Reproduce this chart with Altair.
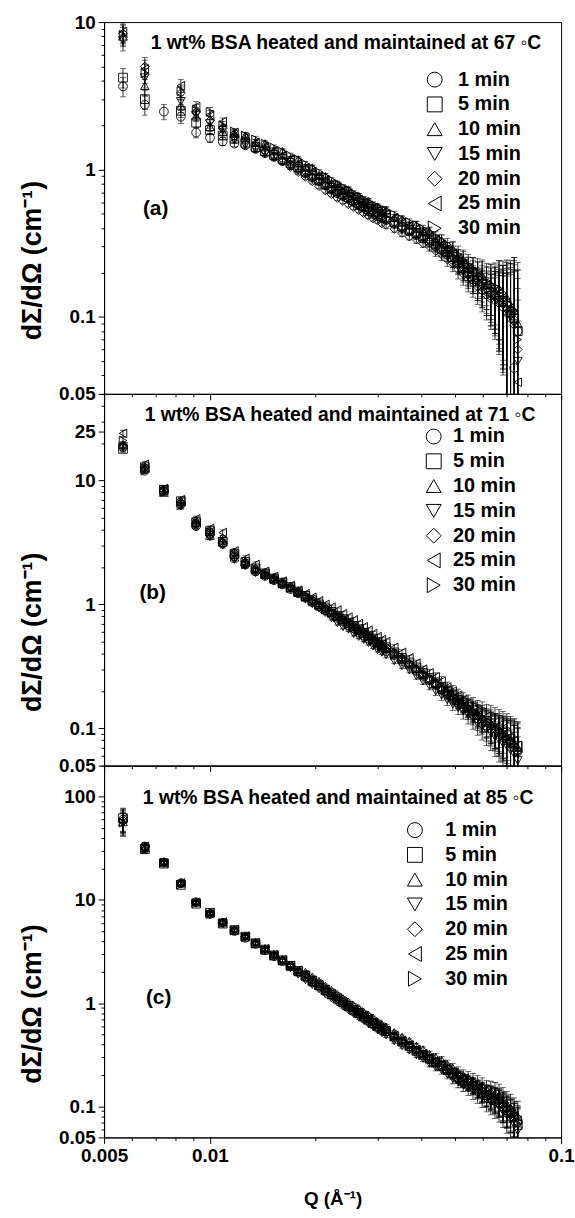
import altair as alt
import pandas as pd

FONT = "Liberation Sans"

SERIES = ["1 min", "5 min", "10 min", "15 min", "20 min", "25 min", "30 min"]
SHAPES = ["circle", "square", "triangle-up", "triangle-down", "diamond", "triangle-left", "triangle-right"]

Q = [0.00566, 0.00653, 0.0074, 0.00827, 0.00914, 0.01001, 0.01088, 0.01175, 0.01262, 0.01349,
     0.01436, 0.01523, 0.0161, 0.01697, 0.01784, 0.01871, 0.01958, 0.02045, 0.02132, 0.02219,
     0.02306, 0.02393, 0.0248, 0.02567, 0.02654, 0.02741, 0.02828, 0.02915, 0.03002, 0.03089,
     0.03176, 0.0335, 0.03524, 0.03698, 0.03872, 0.04046, 0.0422, 0.04394, 0.04568, 0.04742,
     0.04916, 0.0509, 0.05264, 0.05438, 0.05612, 0.05786, 0.0596, 0.06134, 0.06308, 0.06482,
     0.06656, 0.0683, 0.07004, 0.07178, 0.07352, 0.07526]

# ---- (a) 67 C ----
A67_1 = [3.66, 2.75, 2.47, 2.28, 1.78, 1.64, 1.55,
         1.50, 1.46, 1.38, 1.29, 1.22, 1.14, 1.07, 1.01, 0.94, 0.88,
         0.83, 0.78, 0.73, 0.69, 0.66, 0.63, 0.60, 0.57, 0.55, 0.52,
         0.50, 0.48, 0.47, 0.455, 0.43, 0.40, 0.38, 0.36, 0.34, 0.32,
         0.30, 0.285, 0.265, 0.245, 0.23, 0.21, 0.195, 0.18, 0.17, 0.16,
         0.15, 0.14, 0.14, 0.13, 0.125, 0.11, 0.105, 0.045, 0.08]
A67_5 = [4.2, 3.0, None, 2.5, 2.08, 1.85, 1.70,
         1.62, 1.52, 1.42, 1.33, 1.25, 1.18, 1.11, 1.04, 0.97, 0.91,
         0.85, 0.80, 0.75, 0.72, 0.68, 0.65, 0.62, 0.59, 0.56, 0.54,
         0.52, 0.50, 0.48, 0.47, 0.44, 0.41, 0.39, 0.37, 0.35, 0.33,
         0.31, 0.29, 0.275, 0.255, 0.235, 0.215, 0.20, 0.185, 0.175, 0.165,
         0.155, 0.148, 0.14, 0.135, 0.128, 0.118, 0.108, 0.098, 0.08]
A67_10 = [8.0, 3.7, None, 2.7, 2.3, 1.95, 1.80,
          1.75, 1.70, 1.52, 1.50, 1.35, 1.33, 1.18, 1.17, 1.04, 1.03,
          0.91, 0.90, 0.80, 0.80, 0.72, 0.73, 0.66, 0.66, 0.60, 0.61,
          0.55, 0.56, 0.51, 0.53, 0.47, 0.46, 0.42, 0.42, 0.38, 0.38,
          0.33, 0.33, 0.29, 0.29, 0.25, 0.245, 0.215, 0.21, 0.19, 0.19,
          0.165, 0.165, 0.15, 0.155, 0.135, 0.135, 0.115, 0.11, 0.09]
A67_15 = [7.5, 4.2, None, 2.9, 2.35, 2.05, 1.85,
          1.58, 1.47, 1.37, 1.28, 1.20, 1.13, 1.06, 0.99, 0.93, 0.87,
          0.82, 0.77, 0.72, 0.69, 0.65, 0.62, 0.59, 0.56, 0.54, 0.52,
          0.50, 0.48, 0.46, 0.45, 0.42, 0.39, 0.375, 0.355, 0.34, 0.32,
          0.30, 0.28, 0.265, 0.245, 0.225, 0.205, 0.19, 0.18, 0.17, 0.16,
          0.15, 0.14, 0.135, 0.13, 0.12, 0.11, 0.10, 0.09, 0.05]
A67_20 = [8.4, 5.0, None, 3.3, 2.45, 2.15, 1.90,
          1.68, 1.57, 1.45, 1.33, 1.23, 1.13, 1.04, 0.96, 0.89, 0.83,
          0.77, 0.72, 0.68, 0.64, 0.61, 0.58, 0.555, 0.53, 0.505, 0.485,
          0.465, 0.45, 0.43, 0.42, 0.395, 0.37, 0.35, 0.335, 0.315, 0.30,
          0.28, 0.265, 0.245, 0.23, 0.21, 0.195, 0.18, 0.17, 0.16, 0.15,
          0.14, 0.132, 0.128, 0.123, 0.115, 0.105, 0.097, 0.088, 0.06]
A67_25 = [8.6, 4.8, None, 3.7, 2.67, 2.35, 2.11,
          1.78, 1.65, 1.53, 1.43, 1.34, 1.25, 1.18, 1.10, 1.03, 0.97,
          0.90, 0.85, 0.80, 0.76, 0.72, 0.69, 0.655, 0.625, 0.60, 0.57,
          0.55, 0.53, 0.51, 0.50, 0.47, 0.44, 0.415, 0.395, 0.375, 0.355,
          0.335, 0.31, 0.29, 0.27, 0.25, 0.23, 0.215, 0.20, 0.19, 0.175,
          0.165, 0.155, 0.15, 0.145, 0.135, 0.125, 0.115, 0.105, 0.036]
A67_30 = [8.2, 4.5, None, 3.4, 2.55, 2.46, 2.0,
          1.81, 1.70, 1.60, 1.50, 1.41, 1.32, 1.24, 1.17, 1.09, 1.02,
          0.96, 0.90, 0.85, 0.80, 0.76, 0.73, 0.69, 0.66, 0.63, 0.605,
          0.58, 0.56, 0.54, 0.53, 0.495, 0.46, 0.44, 0.42, 0.395, 0.375,
          0.35, 0.33, 0.31, 0.285, 0.265, 0.24, 0.225, 0.21, 0.20, 0.185,
          0.175, 0.165, 0.16, 0.155, 0.145, 0.13, 0.12, 0.11, 0.07]
ERR67 = [0.15, 0.15, 0.12, 0.10, 0.08, 0.07, 0.06, 0.05, 0.05, 0.05,
         0.04, 0.04, 0.04, 0.04, 0.04, 0.04, 0.04, 0.04, 0.04, 0.04,
         0.04, 0.04, 0.04, 0.04, 0.04, 0.04, 0.04, 0.04, 0.04, 0.04,
         0.05, 0.05, 0.05, 0.05, 0.06, 0.06, 0.07, 0.08, 0.09, 0.10,
         0.12, 0.14, 0.16, 0.18, 0.20, 0.24, 0.28, 0.32, 0.38, 0.45,
         0.55, 0.65, 0.80, 1.00, 1.30, 1.60]

# ---- (b) 71 C ----
B71_1 = [18.5, 12.0, 8.2, 6.4, 4.3, 3.7, 3.1, 2.45, 2.1, 1.85,
         1.70, 1.57, 1.45, 1.33, 1.23, 1.14, 1.05, 0.97, 0.90, 0.84,
         0.78, 0.73, 0.68, 0.64, 0.60, 0.56, 0.53, 0.50, 0.47, 0.45,
         0.42, 0.39, 0.35, 0.32, 0.29, 0.265, 0.245, 0.225, 0.205, 0.19,
         0.175, 0.16, 0.15, 0.14, 0.13, 0.12, 0.115, 0.105, 0.10, 0.095,
         0.09, 0.085, 0.08, 0.075, 0.07, 0.065]
B71_5 = [18.0, 12.8, 8.4, 6.8, 4.6, 3.9, 3.2, 2.55, 2.2, 1.95,
         1.78, 1.62, 1.50, 1.38, 1.27, 1.17, 1.08, 1.0, 0.93, 0.87,
         0.81, 0.76, 0.71, 0.67, 0.63, 0.59, 0.56, 0.53, 0.50, 0.47,
         0.45, 0.41, 0.37, 0.34, 0.31, 0.28, 0.255, 0.235, 0.215, 0.20,
         0.185, 0.17, 0.16, 0.15, 0.14, 0.13, 0.125, 0.115, 0.11, 0.10,
         0.098, 0.092, 0.088, 0.082, 0.078, 0.072]
B71_10 = [19.5, 12.5, 8.0, 6.9, 4.8, 3.6, 3.3, 2.4, 2.2, 1.9,
          1.74, 1.60, 1.48, 1.36, 1.25, 1.16, 1.07, 0.99, 0.92, 0.86,
          0.80, 0.75, 0.70, 0.66, 0.62, 0.58, 0.55, 0.52, 0.49, 0.46,
          0.44, 0.40, 0.36, 0.33, 0.30, 0.27, 0.25, 0.23, 0.21, 0.195,
          0.18, 0.165, 0.155, 0.145, 0.135, 0.128, 0.12, 0.112, 0.105, 0.10,
          0.095, 0.09, 0.085, 0.08, 0.076, 0.07]
B71_15 = [18.8, 12.2, 8.5, 6.2, 4.2, 3.5, 3.0, 2.3, 2.05, 1.8,
          1.68, 1.55, 1.44, 1.32, 1.22, 1.10, 1.01, 0.93, 0.86, 0.78,
          0.71, 0.66, 0.63, 0.58, 0.55, 0.52, 0.49, 0.46, 0.43, 0.41,
          0.39, 0.35, 0.32, 0.295, 0.265, 0.24, 0.22, 0.20, 0.185, 0.17,
          0.157, 0.147, 0.138, 0.129, 0.12, 0.11, 0.103, 0.097, 0.092, 0.086,
          0.081, 0.076, 0.072, 0.067, 0.062, 0.055]
B71_20 = [19.0, 12.8, 8.3, 6.6, 4.5, 3.9, 3.4, 2.6, 2.2, 1.95,
          1.80, 1.64, 1.51, 1.39, 1.28, 1.18, 1.09, 1.01, 0.94, 0.88,
          0.82, 0.77, 0.72, 0.67, 0.63, 0.60, 0.56, 0.53, 0.50, 0.47,
          0.45, 0.41, 0.37, 0.33, 0.30, 0.275, 0.25, 0.23, 0.21, 0.195,
          0.18, 0.17, 0.158, 0.148, 0.138, 0.128, 0.12, 0.112, 0.106, 0.10,
          0.095, 0.09, 0.084, 0.079, 0.072, 0.065]
B71_25 = [24.0, 13.5, 8.6, 7.0, 4.9, 4.1, 3.8, 2.7, 2.35, 2.1,
          1.85, 1.68, 1.54, 1.42, 1.30, 1.22, 1.14, 1.07, 1.0, 0.95,
          0.90, 0.84, 0.79, 0.75, 0.70, 0.66, 0.62, 0.58, 0.55, 0.52,
          0.50, 0.45, 0.41, 0.37, 0.335, 0.30, 0.28, 0.26, 0.24, 0.215,
          0.20, 0.185, 0.17, 0.16, 0.15, 0.14, 0.134, 0.125, 0.12, 0.112,
          0.106, 0.10, 0.093, 0.086, 0.08, 0.073]
B71_30 = [21.0, 12.0, 8.1, 6.3, 4.4, 3.8, 3.2, 2.5, 2.1, 1.9,
          1.75, 1.60, 1.47, 1.35, 1.25, 1.15, 1.06, 0.98, 0.91, 0.85,
          0.79, 0.74, 0.69, 0.65, 0.61, 0.57, 0.54, 0.51, 0.48, 0.46,
          0.43, 0.39, 0.36, 0.33, 0.30, 0.27, 0.25, 0.23, 0.21, 0.195,
          0.18, 0.165, 0.155, 0.145, 0.135, 0.125, 0.118, 0.11, 0.104, 0.098,
          0.092, 0.087, 0.082, 0.077, 0.07, 0.064]
ERR71 = [0.06, 0.05, 0.05, 0.05, 0.05, 0.05, 0.05, 0.05, 0.05, 0.05,
         0.04, 0.04, 0.04, 0.04, 0.04, 0.04, 0.04, 0.04, 0.04, 0.04,
         0.04, 0.04, 0.04, 0.04, 0.04, 0.04, 0.04, 0.04, 0.04, 0.04,
         0.05, 0.05, 0.05, 0.05, 0.06, 0.06, 0.07, 0.08, 0.09, 0.10,
         0.11, 0.12, 0.14, 0.16, 0.18, 0.20, 0.22, 0.25, 0.28, 0.31,
         0.34, 0.37, 0.41, 0.45, 0.50, 0.55]

# ---- (c) 85 C ----
C85_1 = [60, 33, 23, 14.5, 9.5, 7.3, 6.0, 5.0, 4.3, 3.75,
         3.25, 2.85, 2.55, 2.28, 2.02, 1.82, 1.63, 1.48, 1.33, 1.21,
         1.10, 1.01, 0.93, 0.86, 0.80, 0.74, 0.69, 0.64, 0.60, 0.56,
         0.53, 0.47, 0.42, 0.38, 0.345, 0.315, 0.285, 0.265, 0.245, 0.225,
         0.205, 0.19, 0.178, 0.168, 0.158, 0.148, 0.138, 0.128, 0.122, 0.117,
         0.11, 0.10, 0.092, 0.085, 0.078, 0.07]
C85_5 = [62, 31, 22.5, 14.0, 9.2, 7.5, 5.9, 5.1, 4.4, 3.8,
         3.3, 2.9, 2.6, 2.3, 2.05, 1.84, 1.64, 1.49, 1.34, 1.22,
         1.11, 1.02, 0.94, 0.86, 0.80, 0.74, 0.69, 0.64, 0.60, 0.565,
         0.535, 0.475, 0.425, 0.385, 0.345, 0.315, 0.29, 0.265, 0.245, 0.225,
         0.21, 0.19, 0.175, 0.165, 0.155, 0.145, 0.135, 0.128, 0.12, 0.115,
         0.11, 0.10, 0.092, 0.086, 0.078, 0.066]
C85_10 = [57, 32, 23.5, 14.8, 9.6, 7.6, 6.1, 5.2, 4.5, 3.9,
          3.4, 3.0, 2.65, 2.35, 2.1, 2.0, 1.8, 1.63, 1.47, 1.33,
          1.22, 1.11, 1.03, 0.95, 0.89, 0.82, 0.77, 0.72, 0.66, 0.62,
          0.59, 0.52, 0.47, 0.43, 0.385, 0.355, 0.32, 0.30, 0.28, 0.255,
          0.235, 0.215, 0.2, 0.19, 0.178, 0.167, 0.156, 0.145, 0.14, 0.134,
          0.127, 0.116, 0.105, 0.097, 0.088, 0.08]
C85_15 = [55, 31.5, 22.8, 14.2, 9.3, 7.2, 5.9, 5.0, 4.35, 3.75,
          3.25, 2.85, 2.55, 2.2, 1.9, 1.68, 1.51, 1.37, 1.23, 1.12,
          1.02, 0.93, 0.86, 0.79, 0.73, 0.68, 0.63, 0.59, 0.55, 0.515,
          0.49, 0.43, 0.385, 0.35, 0.315, 0.29, 0.26, 0.24, 0.225, 0.205,
          0.186, 0.172, 0.16, 0.15, 0.141, 0.132, 0.123, 0.115, 0.11, 0.104,
          0.099, 0.09, 0.082, 0.074, 0.067, 0.058]
C85_20 = [59, 32.5, 23.2, 14.4, 9.4, 7.4, 6.0, 5.1, 4.4, 3.8,
          3.3, 2.9, 2.6, 2.3, 2.05, 1.85, 1.65, 1.5, 1.35, 1.22,
          1.12, 1.02, 0.94, 0.87, 0.81, 0.75, 0.70, 0.65, 0.61, 0.57,
          0.54, 0.48, 0.43, 0.39, 0.35, 0.32, 0.29, 0.27, 0.25, 0.23,
          0.21, 0.195, 0.18, 0.17, 0.16, 0.15, 0.14, 0.13, 0.125, 0.12,
          0.114, 0.104, 0.094, 0.087, 0.079, 0.07]
C85_25 = [61, 33, 22.7, 14.6, 9.5, 7.5, 6.1, 5.15, 4.45, 3.85,
          3.35, 2.95, 2.62, 2.32, 2.07, 1.87, 1.67, 1.51, 1.36, 1.23,
          1.13, 1.03, 0.95, 0.88, 0.82, 0.76, 0.71, 0.66, 0.62, 0.58,
          0.545, 0.485, 0.435, 0.395, 0.355, 0.325, 0.295, 0.275, 0.255, 0.235,
          0.215, 0.2, 0.185, 0.172, 0.162, 0.152, 0.142, 0.133, 0.127, 0.121,
          0.116, 0.106, 0.096, 0.089, 0.081, 0.073]
C85_30 = [56, 31, 23, 14.1, 9.3, 7.3, 5.95, 5.05, 4.38, 3.78,
          3.28, 2.88, 2.58, 2.28, 2.03, 1.83, 1.64, 1.49, 1.34, 1.21,
          1.11, 1.01, 0.93, 0.86, 0.8, 0.745, 0.695, 0.645, 0.605, 0.565,
          0.535, 0.475, 0.425, 0.385, 0.35, 0.32, 0.29, 0.268, 0.248, 0.228,
          0.208, 0.193, 0.178, 0.168, 0.158, 0.148, 0.138, 0.13, 0.124, 0.118,
          0.112, 0.102, 0.093, 0.085, 0.077, 0.068]
ERR85 = [0.25, 0.08, 0.05, 0.05, 0.04, 0.04, 0.04, 0.04, 0.04, 0.04,
         0.04, 0.04, 0.04, 0.04, 0.04, 0.04, 0.04, 0.04, 0.04, 0.04,
         0.04, 0.04, 0.04, 0.04, 0.04, 0.04, 0.04, 0.04, 0.04, 0.04,
         0.05, 0.05, 0.05, 0.05, 0.06, 0.06, 0.07, 0.08, 0.09, 0.10,
         0.11, 0.12, 0.13, 0.15, 0.17, 0.19, 0.21, 0.23, 0.25, 0.27,
         0.29, 0.31, 0.33, 0.35, 0.37, 0.40]

# axis tick values
X_TICKS = [0.005, 0.006, 0.007, 0.008, 0.009, 0.01, 0.02, 0.03, 0.04, 0.05,
           0.06, 0.07, 0.08, 0.09, 0.1]
X_LABELS = {0.005: "0.005", 0.01: "0.01", 0.1: "0.1"}

YA_TICKS = [0.03, 0.04, 0.05, 0.06, 0.07, 0.08, 0.09, 0.1, 0.2, 0.3, 0.4, 0.5, 0.6, 0.7,
            0.8, 0.9, 1, 2, 3, 4, 5, 6, 7, 8, 9, 10]
YA_LABELS = {0.03: "0.05", 0.1: "0.1", 1: "1", 10: "10"}
YB_TICKS = [0.05, 0.06, 0.07, 0.08, 0.09, 0.1, 0.2, 0.3, 0.4, 0.5, 0.6, 0.7, 0.8, 0.9,
            1, 2, 3, 4, 5, 6, 7, 8, 9, 10, 20, 25, 30, 40, 50]
YB_LABELS = {0.05: "0.05", 0.1: "0.1", 1: "1", 10: "10", 25: "25"}
YC_TICKS = [0.05, 0.06, 0.07, 0.08, 0.09, 0.1, 0.2, 0.3, 0.4, 0.5, 0.6, 0.7, 0.8, 0.9,
            1, 2, 3, 4, 5, 6, 7, 8, 9, 10, 20, 30, 40, 50, 60, 70, 80, 90, 100, 200]
YC_LABELS = {0.05: "0.05", 0.1: "0.1", 1: "1", 10: "10", 100: "100"}

W, H = 461, 375
YTITLE = "dΣ/dΩ (cm⁻¹)"


def label_expr(mapping):
    e = ""
    for v, lab in mapping.items():
        e += f"datum.value === {v} ? '{lab}' : "
    return e + "''"


def tick_size(mapping):
    majors = ",".join(str(v) for v in mapping.keys())
    return {"condition": {"test": f"indexof([{majors}], datum.value) >= 0", "value": 6}, "value": 3}


def x_axis(show):
    kw = dict(values=X_TICKS, labelExpr=label_expr(X_LABELS), labelOverlap=False, labelFlush=False,
              tickSize=tick_size(X_LABELS), labelPadding=3, grid=False)
    if show:
        kw.update(labels=True, title="Q (Å⁻¹)", titleY=62, titleBaseline="middle", titleFontSize=19)
    else:
        kw.update(labels=False, title="")
    return alt.Axis(**kw)


def y_axis(ticks, mapping):
    return alt.Axis(values=ticks, labelExpr=label_expr(mapping), labelOverlap=False, labelFlush=False,
                    tickSize=tick_size(mapping), labelPadding=3, grid=False, title=YTITLE,
                    titleX=-72, titleY=240, titleAngle=270, titleAlign="center",
                    titleBaseline="middle", titleFontSize=27)


def panel(arrays, err, ydom, yticks, ymap, title_text, title_xy, tag, tag_xy, leg, show_x):
    rows = []
    for name, arr in zip(SERIES, arrays):
        for q, v, e in zip(Q, arr, err):
            if v is None:
                continue
            d = v * e
            rows.append({"series": name, "Q": q, "I": v,
                         "lo": max(v - d, ydom[0] * 0.3), "hi": v + d})
    df = pd.DataFrame(rows)
    xsc = alt.Scale(type="log", domain=[0.005, 0.1], nice=False)
    ysc = alt.Scale(type="log", domain=ydom, nice=False)
    xax = x_axis(show_x)
    yax = y_axis(yticks, ymap)
    X = alt.X("Q:Q", scale=xsc, axis=xax)
    base = alt.Chart(df)
    bars = base.mark_rule(color="black", strokeWidth=0.8, clip=True).encode(
        x=X, y=alt.Y("lo:Q", scale=ysc, axis=yax), y2="hi:Q")
    cap_lo = base.mark_tick(orient="horizontal", size=6, thickness=0.8, color="black", clip=True).encode(
        x=X, y=alt.Y("lo:Q", scale=ysc, axis=yax))
    cap_hi = base.mark_tick(orient="horizontal", size=6, thickness=0.8, color="black", clip=True).encode(
        x=X, y=alt.Y("hi:Q", scale=ysc, axis=yax))
    pts = base.mark_point(filled=False, color="black", size=78, strokeWidth=0.9, opacity=1, clip=True).encode(
        x=X, y=alt.Y("I:Q", scale=ysc, axis=yax),
        shape=alt.Shape("series:N", scale=alt.Scale(domain=SERIES, range=SHAPES),
                        legend=alt.Legend(orient="none", legendX=leg[0], legendY=leg[1], title="",
                                          symbolSize=225, symbolStrokeWidth=1, symbolStrokeColor="black",
                                          symbolFillColor="transparent", labelFont=FONT,
                                          labelFontWeight="bold", labelFontSize=20, labelColor="black",
                                          rowPadding=leg[3], labelOffset=leg[2], padding=0,
                                          symbolOffset=0)))
    ttl = alt.Chart(pd.DataFrame({"t": [title_text]})).mark_text(
        align="left", baseline="middle", font=FONT, fontWeight="bold", fontSize=19.5, color="black").encode(
        x=alt.value(title_xy[0]), y=alt.value(title_xy[1]), text="t:N")
    tg = alt.Chart(pd.DataFrame({"t": [tag]})).mark_text(
        align="center", baseline="middle", font=FONT, fontWeight="bold", fontSize=21, color="black").encode(
        x=alt.value(tag_xy[0]), y=alt.value(tag_xy[1]), text="t:N")
    return alt.layer(bars, cap_lo, cap_hi, pts, ttl, tg).properties(width=W, height=H)


pa = panel([A67_1, A67_5, A67_10, A67_15, A67_20, A67_25, A67_30], ERR67, [0.03, 10], YA_TICKS, YA_LABELS,
           "1 wt% BSA heated and maintained at 67 ◦C", (47, 21.5), "(a)", (52, 189),
           (323.5, 48, 13.5, 5), False)
pb = panel([B71_1, B71_5, B71_10, B71_15, B71_20, B71_25, B71_30], ERR71, [0.05, 50], YB_TICKS, YB_LABELS,
           "1 wt% BSA heated and maintained at 71 ◦C", (41, 21), "(b)", (49, 201),
           (322.5, 33, 9.5, 5), False)
pc = panel([C85_1, C85_5, C85_10, C85_15, C85_20, C85_25, C85_30], ERR85, [0.05, 200], YC_TICKS, YC_LABELS,
           "1 wt% BSA heated and maintained at 85 ◦C", (39, 33), "(c)", (55, 234),
           (303.5, 55, 20.5, 5), True)

chart = alt.vconcat(pa, pb, pc, spacing=0, bounds="flush").resolve_scale(
    y="independent", shape="independent").resolve_legend(shape="independent").properties(
    padding={"left": 18, "top": 7, "right": 0, "bottom": 5}
).configure_view(stroke="black", strokeWidth=1).configure_axis(
    domainColor="black", tickColor="black", labelColor="black", titleColor="black",
    labelFont=FONT, titleFont=FONT, labelFontWeight="bold", titleFontWeight="bold",
    labelFontSize=19, domainWidth=1, tickWidth=1
)

chart.save("out.html", embed_options={"renderer": "svg", "actions": False})
